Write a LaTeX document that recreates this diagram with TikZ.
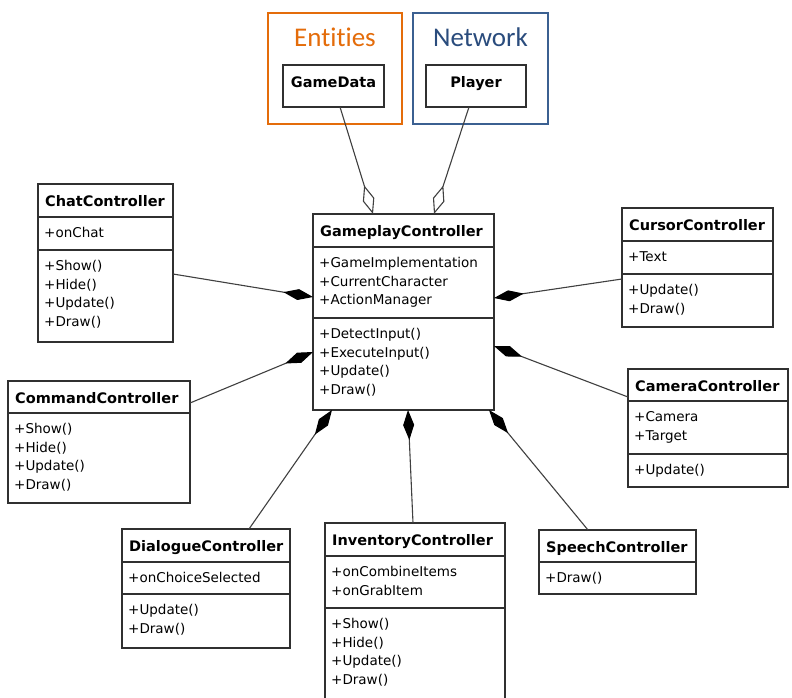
\documentclass[tikz,border=0pt]{standalone}
\usepackage{fontspec}
\setmainfont{DejaVu Sans}
\newfontfamily\pkgfont[Ligatures=NoCommon]{Carlito}
\usetikzlibrary{arrows.meta,calc}

\definecolor{entorange}{HTML}{E46C0A}
\definecolor{netblue}{HTML}{3B6091}
\definecolor{nettext}{HTML}{2A4C7D}
\definecolor{umlline}{HTML}{303030}
\definecolor{linkgray}{HTML}{404040}

\tikzset{
  cls/.style={rectangle, draw=umlline, line width=1.3pt, fill=white,
    anchor=north west, inner sep=0pt, outer sep=0pt},
  ctitle/.style={anchor=base west, inner sep=0pt,
    font=\fontsize{14.5}{17}\selectfont\bfseries},
  ptitle/.style={anchor=base, inner sep=0pt,
    font=\fontsize{14.5}{17}\selectfont\bfseries},
  cbody/.style={anchor=north west, inner sep=0pt, align=left,
    font=\fontsize{13.5}{18.8}\selectfont},
  csep/.style={draw=umlline, line width=1.1pt},
  pkg/.style={rectangle, line width=2.4pt, anchor=north west,
    inner sep=0pt, outer sep=0pt},
  pkglabel/.style={inner sep=0pt, font=\pkgfont\fontsize{27}{30}\selectfont},
  comp/.style={draw=linkgray, line width=1.1pt,
    -{Diamond[length=30pt,width=11pt,fill=black,color=black]}},
  aggr/.style={draw=linkgray, line width=1.1pt,
    -{Diamond[open,length=30pt,width=12pt]}},
}

\begin{document}
\begin{tikzpicture}[x=1pt,y=-1pt]
  \clip (0,0) rectangle (792,698);
  \fill[white] (0,0) rectangle (792,698);

  % ---- packages ----
  \node[pkg, draw=entorange, minimum width=134, minimum height=111] (ent) at (268,13) {};
  \node[pkglabel, text=entorange] (entlbl) at ($(ent.north)+(0,24)$) {Entities};
  \node[cls, minimum width=101, minimum height=42] (gd) at (283,65) {};
  \node[ptitle] (gdt) at ($(gd.north)+(0,23)$) {GameData};

  \node[pkg, draw=netblue, minimum width=135, minimum height=111] (net) at (413,13) {};
  \node[pkglabel, text=nettext] (netlbl) at ($(net.north)+(0,24)$) {Network};
  \node[cls, minimum width=100, minimum height=42] (pl) at (426,65) {};
  \node[ptitle] (plt) at ($(pl.north)+(0,23)$) {Player};

  % ---- GameplayController ----
  \node[cls, minimum width=181, minimum height=196] (gp) at (313,214) {};
  \node[ctitle] (gpt) at ($(gp.north west)+(7,22)$) {GameplayController};
  \draw[csep] ($(gp.north west)+(0,33)$) -- ($(gp.north east)+(0,33)$);
  \node[cbody] (gpa) at ($(gp.north west)+(6,40)$)
    {\strut+GameImplementation\\+CurrentCharacter\\+ActionManager};
  \draw[csep] ($(gp.north west)+(0,104)$) -- ($(gp.north east)+(0,104)$);
  \node[cbody] (gpm) at ($(gp.north west)+(6,111)$)
    {\strut+DetectInput()\\+ExecuteInput()\\+Update()\\+Draw()};

  % ---- ChatController ----
  \node[cls, minimum width=135, minimum height=158] (chat) at (38,184) {};
  \node[ctitle] (chatt) at ($(chat.north west)+(7,22)$) {ChatController};
  \draw[csep] ($(chat.north west)+(0,33)$) -- ($(chat.north east)+(0,33)$);
  \node[cbody] (chata) at ($(chat.north west)+(6,40)$) {\strut+onChat};
  \draw[csep] ($(chat.north west)+(0,66)$) -- ($(chat.north east)+(0,66)$);
  \node[cbody] (chatm) at ($(chat.north west)+(6,73)$)
    {\strut+Show()\\+Hide()\\+Update()\\+Draw()};

  % ---- CommandController ----
  \node[cls, minimum width=182, minimum height=122] (cmd) at (8,381) {};
  \node[ctitle] (cmdt) at ($(cmd.north west)+(7,22)$) {CommandController};
  \draw[csep] ($(cmd.north west)+(0,32)$) -- ($(cmd.north east)+(0,32)$);
  \node[cbody] (cmdm) at ($(cmd.north west)+(6,39)$)
    {\strut+Show()\\+Hide()\\+Update()\\+Draw()};

  % ---- CursorController ----
  \node[cls, minimum width=151, minimum height=119] (cur) at (622,208) {};
  \node[ctitle] (curt) at ($(cur.north west)+(7,22)$) {CursorController};
  \draw[csep] ($(cur.north west)+(0,33)$) -- ($(cur.north east)+(0,33)$);
  \node[cbody] (cura) at ($(cur.north west)+(6,40)$) {\strut+Text};
  \draw[csep] ($(cur.north west)+(0,66)$) -- ($(cur.north east)+(0,66)$);
  \node[cbody] (curm) at ($(cur.north west)+(6,73)$) {\strut+Update()\\+Draw()};

  % ---- CameraController ----
  \node[cls, minimum width=160, minimum height=118] (cam) at (628,369) {};
  \node[ctitle] (camt) at ($(cam.north west)+(7,22)$) {CameraController};
  \draw[csep] ($(cam.north west)+(0,32)$) -- ($(cam.north east)+(0,32)$);
  \node[cbody] (cama) at ($(cam.north west)+(6,39)$) {\strut+Camera\\+Target};
  \draw[csep] ($(cam.north west)+(0,85)$) -- ($(cam.north east)+(0,85)$);
  \node[cbody] (camm) at ($(cam.north west)+(6,92)$) {\strut+Update()};

  % ---- DialogueController ----
  \node[cls, minimum width=168, minimum height=119] (dlg) at (122,529) {};
  \node[ctitle] (dlgt) at ($(dlg.north west)+(7,22)$) {DialogueController};
  \draw[csep] ($(dlg.north west)+(0,33)$) -- ($(dlg.north east)+(0,33)$);
  \node[cbody] (dlga) at ($(dlg.north west)+(6,40)$) {\strut+onChoiceSelected};
  \draw[csep] ($(dlg.north west)+(0,65)$) -- ($(dlg.north east)+(0,65)$);
  \node[cbody] (dlgm) at ($(dlg.north west)+(6,72)$) {\strut+Update()\\+Draw()};

  % ---- InventoryController ----
  \node[cls, minimum width=180, minimum height=185] (inv) at (325,523) {};
  \node[ctitle] (invt) at ($(inv.north west)+(7,22)$) {InventoryController};
  \draw[csep] ($(inv.north west)+(0,33)$) -- ($(inv.north east)+(0,33)$);
  \node[cbody] (inva) at ($(inv.north west)+(6,40)$) {\strut+onCombineItems\\+onGrabItem};
  \draw[csep] ($(inv.north west)+(0,85)$) -- ($(inv.north east)+(0,85)$);
  \node[cbody] (invm) at ($(inv.north west)+(6,92)$)
    {\strut+Show()\\+Hide()\\+Update()\\+Draw()};

  % ---- SpeechController ----
  \node[cls, minimum width=157, minimum height=64] (sp) at (539,530) {};
  \node[ctitle] (spt) at ($(sp.north west)+(7,22)$) {SpeechController};
  \draw[csep] ($(sp.north west)+(0,32)$) -- ($(sp.north east)+(0,32)$);
  \node[cbody] (spm) at ($(sp.north west)+(6,39)$) {\strut+Draw()};

  % ---- aggregations ----
  \draw[aggr] ($(gd.south)+(6.5,0)$) -- ($(gp.north west)+(60,0)$);
  \draw[aggr] ($(pl.south)+(-7,0)$) -- ($(gp.north west)+(121,0)$);

  % ---- compositions ----
  \draw[comp] ($(chat.north east)+(0,90)$) -- ($(gp.north west)+(0,83)$);
  \draw[comp] ($(cmd.north east)+(0,22)$) -- ($(gp.north west)+(0,138)$);
  \draw[comp] ($(cur.north west)+(0,71)$) -- ($(gp.north east)+(0,84)$);
  \draw[comp] ($(cam.north west)+(0,28)$) -- ($(gp.north east)+(0,132)$);
  \draw[comp] ($(dlg.north west)+(127,0)$) -- ($(gp.south west)+(19,0)$);
  \draw[comp] ($(inv.north west)+(88,0)$) -- ($(gp.south west)+(95,0)$);
  \draw[comp] ($(sp.north west)+(49,0)$) -- ($(gp.south west)+(176,0)$);
\end{tikzpicture}
\end{document}
